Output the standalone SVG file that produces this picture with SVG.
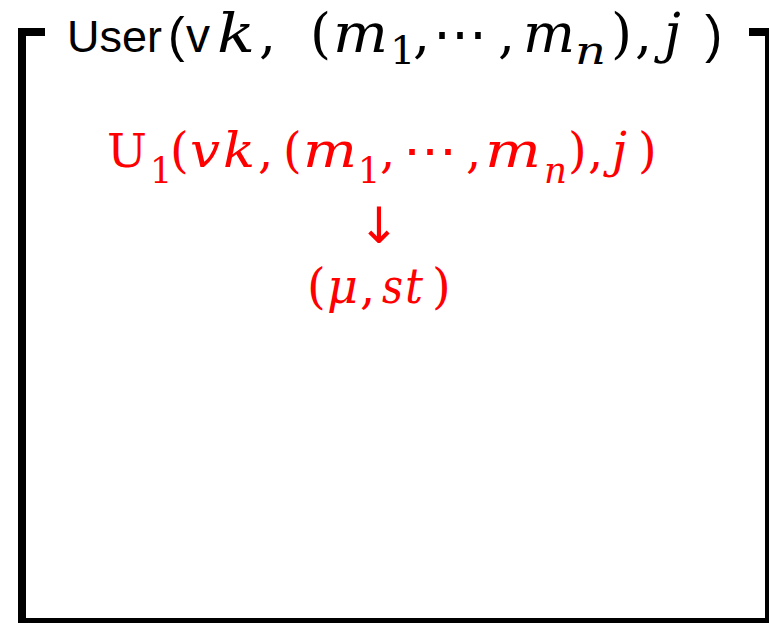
<svg xmlns="http://www.w3.org/2000/svg" width="769" height="623" viewBox="0 0 769 623">
<style>
.sans{font-family:"Liberation Sans",Arial,sans-serif;fill:#000;}
.m{font-family:"DejaVu Serif","Liberation Serif",serif;fill:#000;}
.it{font-style:italic;}
.red{fill:#ff0000;}
.frame{fill:none;stroke:#000;stroke-width:8;stroke-linejoin:miter;}
</style>
<rect width="769" height="623" fill="#fff"/>
<g id="user-box">
<path class="frame" d="M45,32 H22 V622 H769 V32 H749"/>
<g id="title">
<text class="m" y="52" font-size="54"><tspan class="sans" x="67" font-size="45">User</tspan><tspan class="sans" x="168" font-size="50">(</tspan><tspan class="sans" x="186" font-size="48">v</tspan><tspan class="it" x="217" textLength="38" lengthAdjust="spacingAndGlyphs">k</tspan><tspan x="259">,</tspan><tspan x="310">(</tspan><tspan class="it" x="333" textLength="55" lengthAdjust="spacingAndGlyphs">m</tspan><tspan x="390" y="64" font-size="40">1</tspan><tspan x="413" y="52">,</tspan><tspan x="433" textLength="54" lengthAdjust="spacingAndGlyphs">⋯</tspan><tspan x="498">,</tspan><tspan class="it" x="523" textLength="52" lengthAdjust="spacingAndGlyphs">m</tspan><tspan class="it" x="575" y="64" font-size="40" textLength="31" lengthAdjust="spacingAndGlyphs">n</tspan><tspan x="611" y="52">)</tspan><tspan x="635">,</tspan><tspan class="it" x="664">j</tspan><tspan class="sans" x="705" font-size="52">)</tspan></text>
</g>
</g>
<g id="u1">
<text class="m red" x="107" y="167" font-size="46" textLength="40" lengthAdjust="spacingAndGlyphs">U</text>
<text class="m red" x="150" y="183" font-size="35">1</text>
<text class="m red" x="170" y="167" font-size="48">(</text>
<text class="m it red" x="190" y="167" font-size="48" textLength="30" lengthAdjust="spacingAndGlyphs">v</text>
<text class="m it red" x="223" y="167" font-size="48" textLength="32" lengthAdjust="spacingAndGlyphs">k</text>
<text class="m red" x="258" y="167" font-size="48">,</text>
<text class="m red" x="283" y="167" font-size="48">(</text>
<text class="m it red" x="303" y="167" font-size="48" textLength="54" lengthAdjust="spacingAndGlyphs">m</text>
<text class="m red" x="358" y="183" font-size="35">1</text>
<text class="m red" x="380" y="167" font-size="48">,</text>
<text class="m red" x="403" y="167" font-size="48" textLength="54" lengthAdjust="spacingAndGlyphs">⋯</text>
<text class="m red" x="466" y="167" font-size="48">,</text>
<text class="m it red" x="485" y="167" font-size="48" textLength="56" lengthAdjust="spacingAndGlyphs">m</text>
<text class="m it red" x="544" y="183" font-size="35" textLength="23" lengthAdjust="spacingAndGlyphs">n</text>
<text class="m red" x="568" y="167" font-size="48">)</text>
<text class="m red" x="588" y="167" font-size="48">,</text>
<text class="m it red" x="612" y="167" font-size="48">j</text>
<text class="m red" x="638" y="167" font-size="48">)</text>
</g>
<g id="connectors">
<text class="red" x="379" y="243" font-size="50" text-anchor="middle" style="font-family:'DejaVu Sans',sans-serif">↓</text>
</g>
<g id="output">
<text class="m red" x="307" y="303" font-size="48">(</text>
<text class="m it red" x="327" y="303" font-size="48" textLength="31" lengthAdjust="spacingAndGlyphs">μ</text>
<text class="m red" x="360" y="303" font-size="48">,</text>
<text class="m it red" x="382" y="303" font-size="48" textLength="21" lengthAdjust="spacingAndGlyphs">s</text>
<text class="m it red" x="405" y="303" font-size="48" textLength="18" lengthAdjust="spacingAndGlyphs">t</text>
<text class="m red" x="432" y="303" font-size="48">)</text>
</g>
</svg>
